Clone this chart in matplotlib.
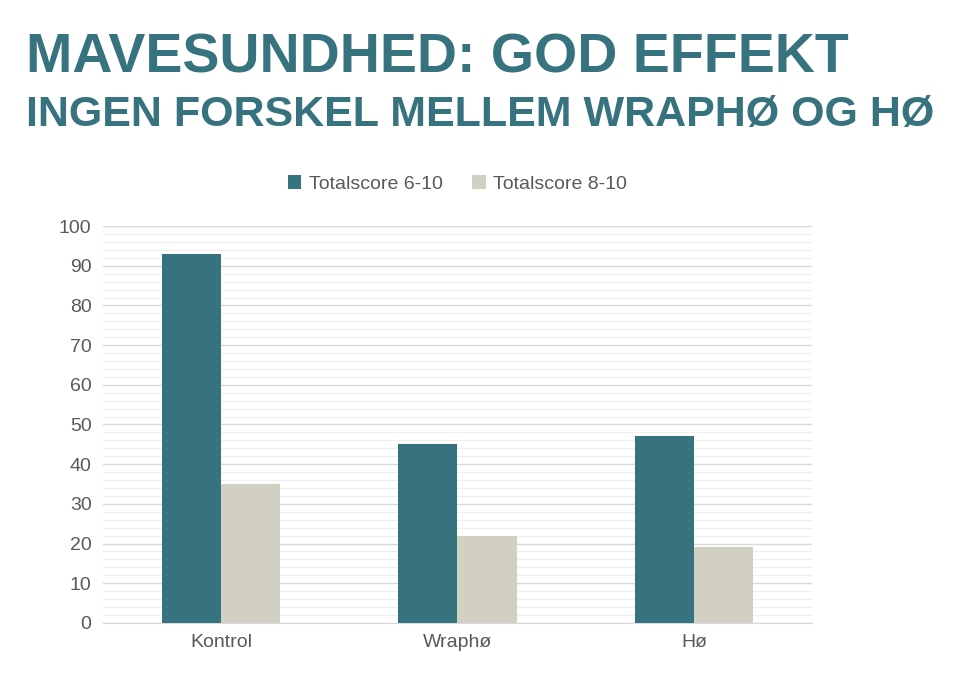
import matplotlib
matplotlib.use("Agg")
import matplotlib.pyplot as plt
import numpy as np
from matplotlib.ticker import MultipleLocator

plt.rcParams['font.family'] = ['Liberation Sans', 'DejaVu Sans']

categories = ["Kontrol", "Wraphø", "Hø"]
series_names = ["Totalscore 6-10", "Totalscore 8-10"]
score_6_10 = [93, 45, 47]
score_8_10 = [35, 22, 19]
colors = ["#37737F", "#D2D0C3"]

fig = plt.figure(figsize=(9.6, 6.83), dpi=100)
ax = fig.add_axes([0.107, 0.088, 0.739, 0.581])
x = np.arange(len(categories))
w = 0.25
ax.bar(x - w/2, score_6_10, w, color=colors[0], label=series_names[0], zorder=3)
ax.bar(x + w/2, score_8_10, w, color=colors[1], label=series_names[1], zorder=3)
ax.set_xlim(-0.5, 2.5)
ax.set_ylim(0, 100)
ax.yaxis.set_major_locator(MultipleLocator(10))
ax.yaxis.set_minor_locator(MultipleLocator(2))
ax.grid(axis="y", which="major", color="#D9D9D9", lw=1, zorder=0)
ax.grid(axis="y", which="minor", color="#EEEEEE", lw=0.8, zorder=0)
for s in ["top", "right", "left"]:
    ax.spines[s].set_visible(False)
ax.spines["bottom"].set_color("#D9D9D9")
ax.tick_params(axis="both", which="both", length=0, labelsize=14, colors="#595959", pad=8)
ax.set_xticks(x)
ax.set_xticklabels(categories)
ax.legend(loc="lower center", bbox_to_anchor=(0.5, 1.04), ncol=2, frameon=False,
          fontsize=14, labelcolor="#595959", handlelength=0.7, handleheight=0.7,
          columnspacing=1.5, handletextpad=0.4)

tc = "#37737F"
fig.text(0.027, 0.915, "MAVESUNDHED: GOD EFFEKT", fontsize=40, fontweight="bold",
         color=tc, va="center")
fig.text(0.027, 0.832, "INGEN FORSKEL MELLEM WRAPHØ OG HØ", fontsize=31, fontweight="bold",
         color=tc, va="center")
fig.savefig("out.png", dpi=100)
